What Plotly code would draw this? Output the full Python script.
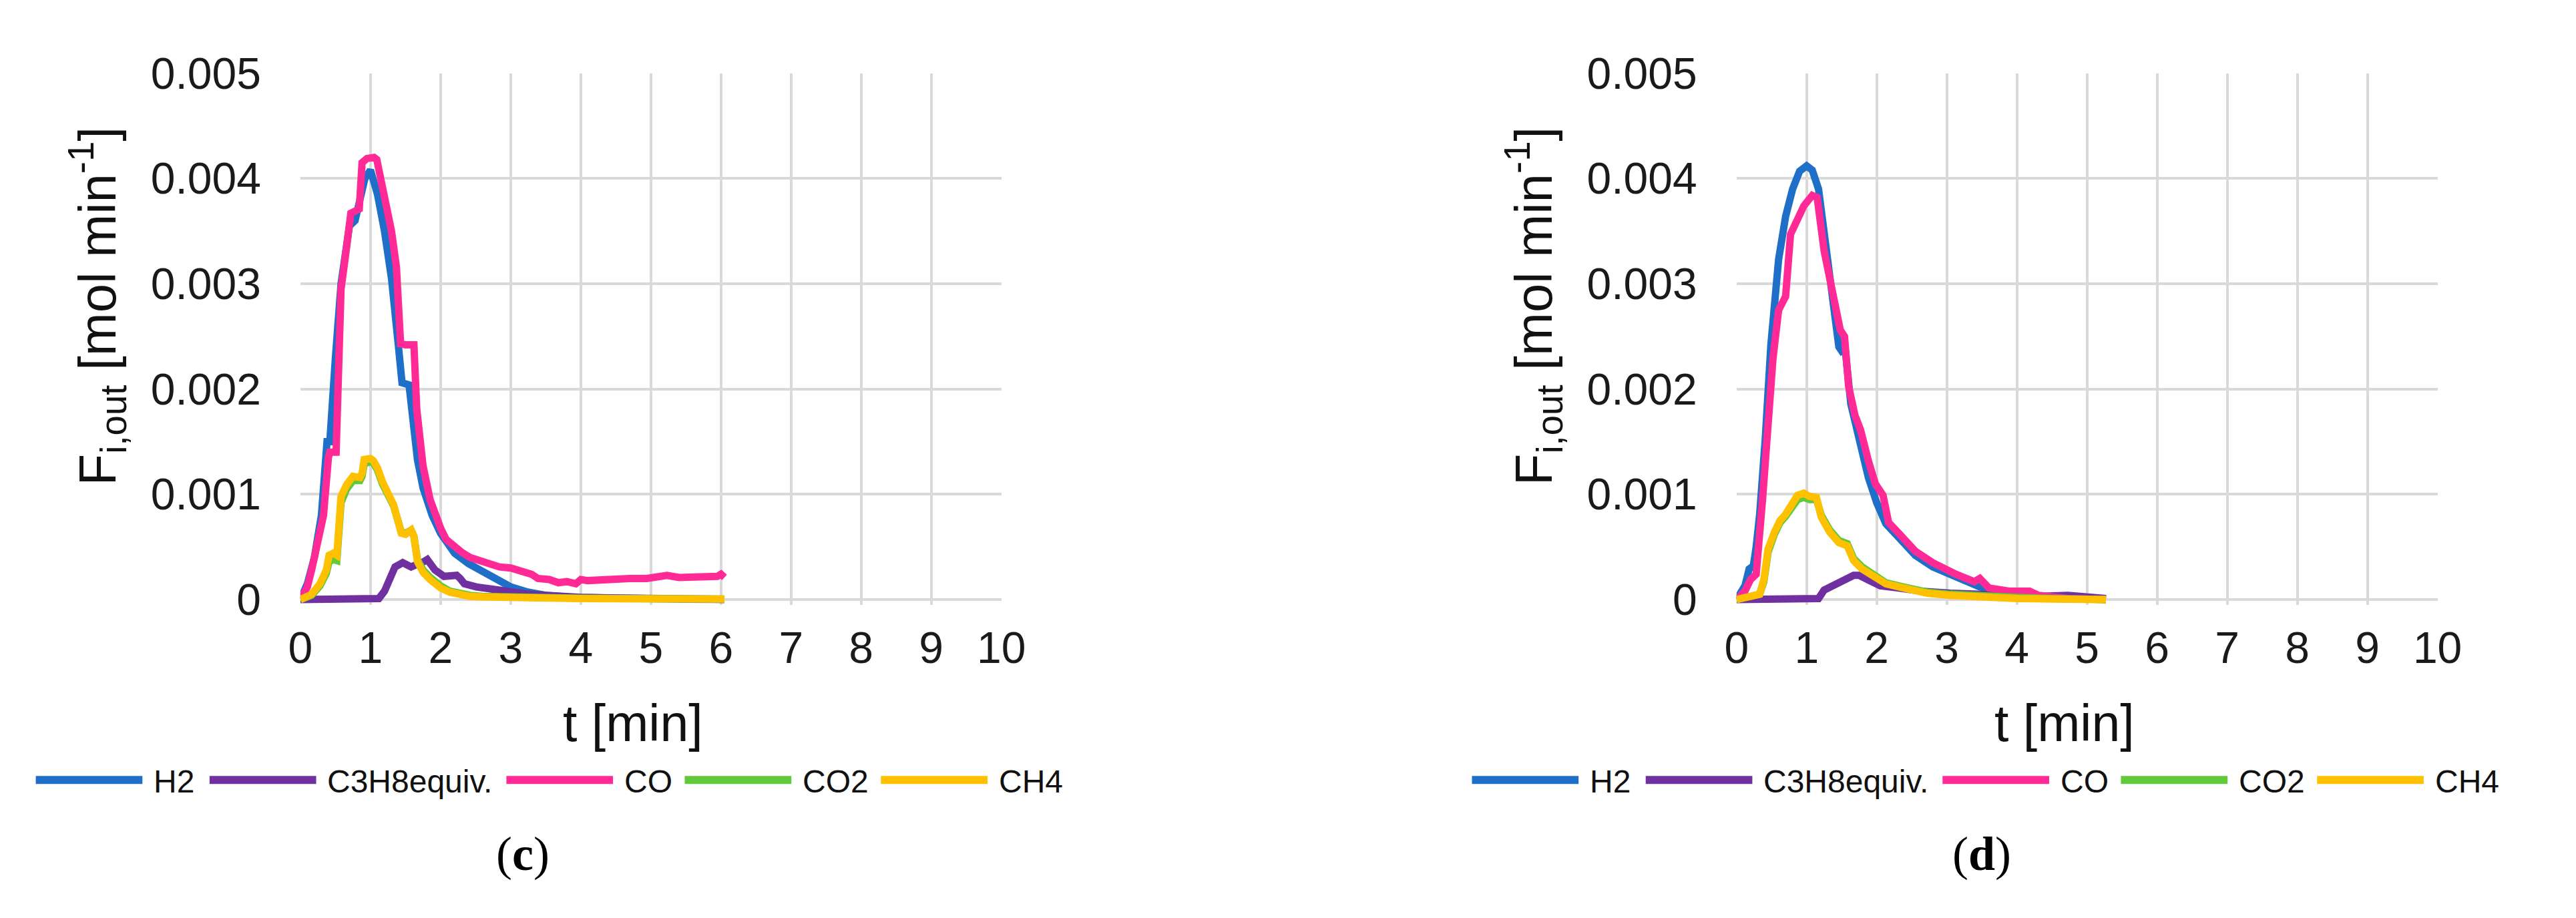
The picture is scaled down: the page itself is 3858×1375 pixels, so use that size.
import numpy as np
import plotly.graph_objects as go

W, H = 3858, 1375

# ---------------- data ----------------
series_names = ["H2", "C3H8equiv.", "CO", "CO2", "CH4"]
series_colors = ["#1F6FC8", "#7030A0", "#FF2A96", "#62C93A", "#FFC000"]

x_tick_vals = list(range(0, 11))
y_tick_vals = [0, 0.001, 0.002, 0.003, 0.004, 0.005]
y_tick_text = ["0", "0.001", "0.002", "0.003", "0.004", "0.005"]

panel_labels = ["c", "d"]
x_title = "t [min]"
y_title = "F<sub>i,out</sub> [mol min<sup>-1</sup>]"

# panel (c)  values in 10^-3 mol/min
h2_c_t = [0, 0.1, 0.2, 0.3, 0.38, 0.42, 0.5, 0.58, 0.7, 0.78, 0.85, 0.92, 1.0, 1.1, 1.2, 1.3, 1.4, 1.45,
          1.55, 1.6, 1.67, 1.75, 1.88, 2.0, 2.2, 2.4, 2.6, 2.8, 3.0, 3.25, 3.5, 3.9, 4.5, 5.0, 5.5, 6.05]
h2_c_v = [0, 0.15, 0.4, 0.8, 1.5, 1.5, 2.3, 3.0, 3.55, 3.6, 3.8, 4.0, 4.08, 3.85, 3.5, 3.05, 2.4, 2.06,
          2.04, 1.74, 1.33, 1.06, 0.8, 0.63, 0.44, 0.34, 0.26, 0.18, 0.12, 0.07, 0.04, 0.02, 0.01, 0.005, 0.003, 0.002]

c3h8_c_t = [0, 0.5, 1.0, 1.12, 1.2, 1.25, 1.35, 1.46, 1.52, 1.58, 1.65, 1.71, 1.81, 1.86, 1.92, 2.05, 2.17,
            2.23, 2.28, 2.34, 2.51, 2.7, 2.84, 3.05, 3.26, 3.5, 3.68, 4.0, 4.5, 5.0, 5.5, 6.05]
c3h8_c_v = [0, 0, 0, 0.01, 0.08, 0.15, 0.31, 0.35, 0.33, 0.31, 0.33, 0.34, 0.38, 0.33, 0.28, 0.22, 0.22,
            0.23, 0.2, 0.15, 0.12, 0.1, 0.08, 0.06, 0.05, 0.04, 0.03, 0.02, 0.015, 0.01, 0.005, 0.002]

co_c_t = [0, 0.1, 0.16, 0.25, 0.33, 0.4, 0.42, 0.51, 0.55, 0.58, 0.65, 0.72, 0.84, 0.88, 0.95, 1.05, 1.09,
          1.2, 1.3, 1.37, 1.43, 1.5, 1.62, 1.66, 1.75, 1.85, 1.92, 2.0, 2.08, 2.2, 2.3, 2.42, 2.63, 2.84,
          3.0, 3.18, 3.3, 3.39, 3.55, 3.68, 3.8, 3.93, 4.0, 4.1, 4.3, 4.52, 4.7, 4.94, 5.1, 5.23, 5.4,
          5.57, 5.75, 5.95, 6.0, 6.05]
co_c_v = [0, 0.12, 0.28, 0.55, 0.8, 1.35, 1.4, 1.4, 2.2, 2.95, 3.3, 3.67, 3.71, 4.15, 4.19, 4.2, 4.18,
          3.86, 3.5, 3.16, 2.43, 2.42, 2.42, 1.81, 1.27, 0.95, 0.8, 0.68, 0.57, 0.5, 0.45, 0.4, 0.35, 0.31,
          0.3, 0.27, 0.24, 0.2, 0.19, 0.16, 0.17, 0.15, 0.19, 0.18, 0.19, 0.19, 0.2, 0.2, 0.21, 0.23, 0.21,
          0.21, 0.22, 0.22, 0.24, 0.21]

ch4_c_t = [0, 0.08, 0.16, 0.28, 0.37, 0.41, 0.47, 0.52, 0.58, 0.66, 0.75, 0.85, 0.88, 0.91, 1.0, 1.04,
           1.1, 1.17, 1.25, 1.33, 1.44, 1.5, 1.58, 1.62, 1.67, 1.75, 1.85, 1.92, 2.0, 2.13, 2.25, 2.42,
           2.6, 2.84, 3.2, 3.6, 4.0, 4.5, 5.0, 5.5, 6.05]
ch4_c_v = [0, 0.02, 0.05, 0.15, 0.28, 0.42, 0.44, 0.42, 0.98, 1.09, 1.17, 1.16, 1.2, 1.33, 1.34, 1.32,
           1.25, 1.12, 1.0, 0.9, 0.63, 0.62, 0.66, 0.6, 0.36, 0.26, 0.19, 0.15, 0.11, 0.07, 0.05, 0.03,
           0.025, 0.02, 0.015, 0.012, 0.01, 0.008, 0.006, 0.005, 0.004]
co2_c_t = ch4_c_t
co2_c_v = [0, 0.02, 0.04, 0.13, 0.25, 0.36, 0.38, 0.37, 0.92, 1.05, 1.13, 1.13, 1.17, 1.29, 1.31, 1.3,
           1.23, 1.1, 0.99, 0.89, 0.64, 0.63, 0.66, 0.6, 0.38, 0.28, 0.21, 0.17, 0.13, 0.08, 0.06, 0.04,
           0.03, 0.025, 0.02, 0.015, 0.012, 0.01, 0.008, 0.006, 0.005]

# panel (d)
h2_d_t = [0, 0.12, 0.18, 0.24, 0.28, 0.33, 0.41, 0.49, 0.6, 0.7, 0.8, 0.9, 1.0, 1.08, 1.17, 1.29, 1.37,
          1.46, 1.5, 1.55, 1.63, 1.71, 1.79, 1.88, 2.0, 2.13, 2.3, 2.55, 2.8, 3.05, 3.26, 3.47, 3.68, 3.89,
          4.31, 4.73, 5.27]
h2_d_v = [0, 0.13, 0.29, 0.32, 0.5, 0.81, 1.53, 2.42, 3.23, 3.64, 3.9, 4.07, 4.12, 4.08, 3.9, 3.29, 2.88,
          2.4, 2.36, 2.38, 1.86, 1.61, 1.37, 1.16, 0.92, 0.72, 0.6, 0.42, 0.31, 0.23, 0.18, 0.12, 0.08, 0.05,
          0.03, 0.01, 0.0]

c3h8_d_t = [0, 0.5, 1.0, 1.17, 1.25, 1.46, 1.67, 1.75, 1.88, 2.05, 2.3, 2.63, 3.05, 3.47, 3.89, 4.31,
            4.73, 5.15, 5.27]
c3h8_d_v = [0, 0, 0, 0.01, 0.09, 0.16, 0.23, 0.23, 0.19, 0.13, 0.11, 0.08, 0.06, 0.05, 0.04, 0.03,
            0.04, 0.02, 0.01]

co_d_t = [0, 0.12, 0.2, 0.28, 0.37, 0.43, 0.52, 0.6, 0.7, 0.77, 0.83, 0.96, 1.08, 1.15, 1.25, 1.37,
          1.48, 1.54, 1.6, 1.69, 1.77, 1.88, 1.98, 2.09, 2.17, 2.3, 2.55, 2.8, 2.88, 3.13, 3.39, 3.47, 3.6,
          3.89, 4.18, 4.31, 4.73, 5.27]
co_d_v = [0, 0.08, 0.19, 0.24, 0.94, 1.48, 2.29, 2.75, 2.88, 3.47, 3.56, 3.74, 3.84, 3.82, 3.31, 2.88,
          2.56, 2.5, 2.02, 1.75, 1.61, 1.32, 1.1, 0.99, 0.73, 0.64, 0.46, 0.35, 0.32, 0.24, 0.17, 0.2, 0.11,
          0.08, 0.08, 0.04, 0.01, 0.0]

ch4_d_t = [0, 0.12, 0.33, 0.39, 0.45, 0.54, 0.62, 0.7, 0.79, 0.87, 0.96, 1.04, 1.14, 1.21, 1.33, 1.46,
           1.58, 1.67, 1.79, 1.96, 2.13, 2.38, 2.72, 3.05, 3.47, 4.0, 4.5, 5.27]
ch4_d_v = [0, 0.02, 0.05, 0.19, 0.48, 0.64, 0.75, 0.81, 0.91, 0.99, 1.01, 0.98, 0.97, 0.78, 0.64, 0.54,
           0.51, 0.37, 0.29, 0.21, 0.15, 0.11, 0.06, 0.04, 0.02, 0.01, 0.005, 0.0]
co2_d_t = ch4_d_t
co2_d_v = [0, 0.02, 0.05, 0.17, 0.45, 0.62, 0.73, 0.79, 0.88, 0.95, 0.97, 0.95, 0.95, 0.8, 0.66, 0.56,
           0.53, 0.39, 0.31, 0.23, 0.16, 0.12, 0.07, 0.05, 0.03, 0.02, 0.01, 0.0]

UNIT = 1e-3  # values above are given in 10^-3 mol/min

panel_c = [(h2_c_t, h2_c_v), (c3h8_c_t, c3h8_c_v), (co_c_t, co_c_v), (co2_c_t, co2_c_v), (ch4_c_t, ch4_c_v)]
panel_d = [(h2_d_t, h2_d_v), (c3h8_d_t, c3h8_d_v), (co_d_t, co_d_v), (co2_d_t, co2_d_v), (ch4_d_t, ch4_d_v)]

# ---------------- layout geometry (pixels) ----------------
plot_left = [430, 2612]
plot_w = 1065
plot_top, plot_bottom = 68, 896
ext = 8  # small extension below zero so lines at zero are not clipped
px_per_unit_y = (plot_bottom - plot_top) / 0.005
y_min = -ext / px_per_unit_y

ytitle_x = [122, 2304]
xtitle_x = [935, 3110]
label_x = [768, 2985]
legend_start = [28, 2210]

def px(x):
    return x / W

def py(y):
    return 1 - y / H

fig = go.Figure()

axis_ids = [("x", "y"), ("x2", "y2")]
for p, (panel, (xa, ya)) in enumerate(zip([panel_c, panel_d], axis_ids)):
    for (t, v), name, col in zip(panel, series_names, series_colors):
        fig.add_trace(go.Scatter(
            x=t, y=np.array(v) * UNIT, mode="lines", name=name,
            line=dict(color=col, width=11),
            xaxis=xa, yaxis=ya, showlegend=False, hoverinfo="skip"))

tick_font = dict(family="Liberation Sans, Arial", size=66, color="#1a1a1a")
grid = dict(showgrid=True, gridcolor="#D9D9D9", gridwidth=4, showline=False, zeroline=False,
            ticks="", tickfont=tick_font)

layout = dict(width=W, height=H, margin=dict(l=0, r=0, t=0, b=0),
              paper_bgcolor="white", plot_bgcolor="white", showlegend=False)

for p in range(2):
    sx = "" if p == 0 else "2"
    layout["xaxis" + sx] = dict(
        domain=[px(plot_left[p]), px(plot_left[p] + plot_w)], range=[0, 10],
        tickvals=x_tick_vals, ticktext=[str(v) for v in x_tick_vals],
        anchor="y" + sx, ticklabelstandoff=20, **grid)
    layout["yaxis" + sx] = dict(
        domain=[py(plot_bottom + ext), py(plot_top)], range=[y_min, 0.005],
        tickvals=y_tick_vals, ticktext=y_tick_text,
        anchor="x" + sx, ticklabelstandoff=58, **grid)

fig.update_layout(**layout)

shapes = []
annotations = []
leg_offsets = [0, 264, 715, 986, 1284]
leg_len = 162
leg_y = 1180
for p in range(2):
    sx = "" if p == 0 else "2"
    shapes.append(dict(type="line", xref="x" + sx, yref="y" + sx,
                       x0=0, x1=10, y0=0, y1=0, line=dict(color="#BFBFBF", width=4), layer="below"))
    annotations.append(dict(text=y_title, textangle=-90, x=px(ytitle_x[p]), y=py(435),
                            xref="paper", yref="paper", xanchor="center", yanchor="middle",
                            showarrow=False, font=dict(family="Liberation Sans, Arial", size=78, color="#111")))
    annotations.append(dict(text=x_title, x=px(xtitle_x[p]), y=py(1090),
                            xref="paper", yref="paper", xanchor="center", yanchor="middle",
                            showarrow=False, font=dict(family="Liberation Sans, Arial", size=77, color="#111")))
    for off, name, col in zip(leg_offsets, series_names, series_colors):
        lx = legend_start[p] + off
        shapes.append(dict(type="line", xref="paper", yref="paper",
                           x0=px(lx), x1=px(lx + leg_len), y0=py(leg_y), y1=py(leg_y),
                           line=dict(color=col, width=12)))
        annotations.append(dict(text=name, x=px(lx + leg_len + 15), y=py(leg_y + 2),
                                xref="paper", yref="paper", xanchor="left", yanchor="middle",
                                showarrow=False,
                                font=dict(family="Liberation Sans, Arial", size=48, color="#111")))
    annotations.append(dict(text="(<b>" + panel_labels[p] + "</b>)", x=px(label_x[p]), y=py(1296),
                            xref="paper", yref="paper", xanchor="center", yanchor="middle",
                            showarrow=False,
                            font=dict(family="Liberation Serif, Times New Roman", size=72, color="#000")))

fig.update_layout(shapes=shapes, annotations=annotations)
fig.write_html("out.html")
